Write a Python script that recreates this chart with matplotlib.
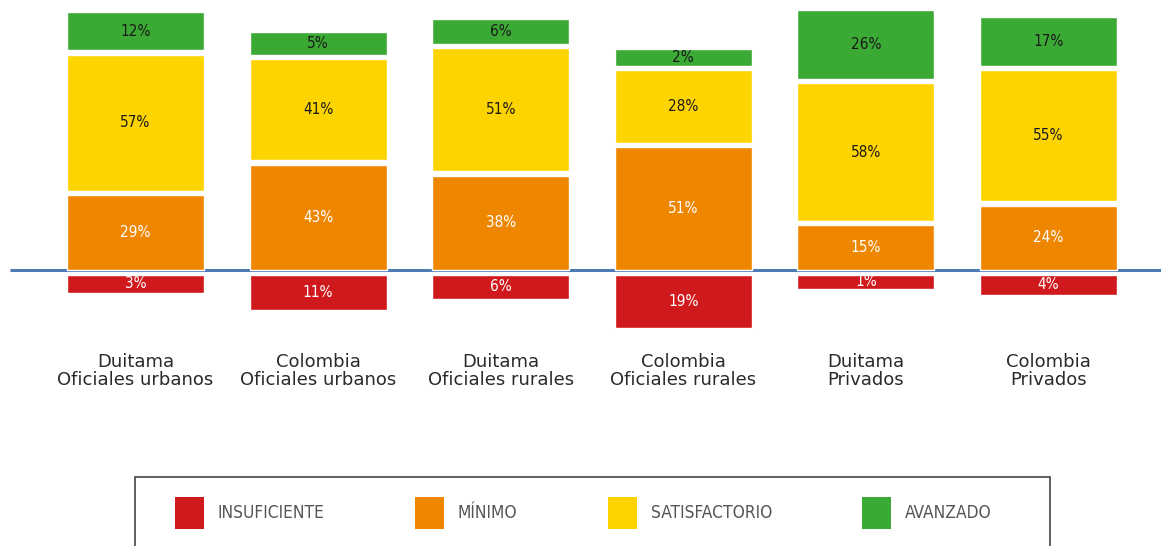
import numpy as np
import matplotlib
matplotlib.use("Agg")
import matplotlib.pyplot as plt
from matplotlib import font_manager
from matplotlib.patches import Patch, Rectangle

# results per group (%)
groups = ["Duitama", "Colombia", "Duitama", "Colombia", "Duitama", "Colombia"]
sectors = ["Oficiales urbanos", "Oficiales urbanos", "Oficiales rurales",
           "Oficiales rurales", "Privados", "Privados"]
insuficiente = [3, 11, 6, 19, 1, 4]
minimo = [29, 43, 38, 51, 15, 24]
satisfactorio = [57, 41, 51, 28, 58, 55]
avanzado = [12, 5, 6, 2, 26, 17]

level_names = ["INSUFICIENTE", "MÍNIMO", "SATISFACTORIO", "AVANZADO"]
colors = ["#cf191c", "#ef8600", "#fed400", "#3baa35"]
text_colors = ["white", "white", "#1a1a1a", "#1a1a1a"]

# condensed face for the numbers and the legend, if there is one
ttf = font_manager.fontManager.ttflist
if any(f.name == "DejaVu Sans" and f.stretch == "condensed" for f in ttf):
    narrow = dict(family="DejaVu Sans", stretch="condensed")
elif any(f.name == "Liberation Sans Narrow" for f in ttf):
    narrow = dict(family="Liberation Sans Narrow")
else:
    narrow = dict(family="DejaVu Sans")

W, H = 1161, 546
fig = plt.figure(figsize=(W / 100, H / 100), dpi=100)
ax = fig.add_axes([0, 0, 1, 1])
ax.set_xlim(-0.742, 5.616)
ax.set_ylim(-127.2, 124.4)
ax.axis("off")

pad = 5.5    # extra height on every block
gap = 2.1    # white space between blocks
width = 0.75
x = np.arange(len(groups))

ax.hlines(0, -0.687, 5.616, color="#4f7bb3", lw=2.2, zorder=1)

for i in x:
    # insuficiente hangs below the line
    h = insuficiente[i] + pad
    ax.bar(i, -h, width, bottom=-gap, color=colors[0], edgecolor="white",
           lw=1.0, zorder=2)
    ax.text(i, -gap - h / 2, f"{insuficiente[i]}%", ha="center", va="center",
            color=text_colors[0], fontsize=11, zorder=3, **narrow)

    base = 0
    for j, vals in enumerate([minimo, satisfactorio, avanzado], start=1):
        h = vals[i] + pad
        ax.bar(i, h, width, bottom=base, color=colors[j], edgecolor="white",
               lw=1.0, zorder=2)
        ax.text(i, base + h / 2, f"{vals[i]}%", ha="center", va="center",
                color=text_colors[j], fontsize=11, zorder=3, **narrow)
        base += h + gap

    ax.text(i, -44.7, groups[i], ha="center", va="baseline",
            fontsize=13, color="#2a2a2a")
    ax.text(i, -53.0, sectors[i], ha="center", va="baseline",
            fontsize=13, color="#2a2a2a")

# legend with a box that runs off the bottom edge
fig.patches.append(Rectangle((135 / W, 1 - 560 / H), 915 / W, 83 / H,
                             transform=fig.transFigure, fill=False,
                             edgecolor="#444444", lw=1.2))
fs = 12.4
fs_px = fs * 100 / 72
handles = [Patch(facecolor=c, edgecolor="none") for c in colors]
fig.legend(handles, level_names, loc="center left",
           bbox_to_anchor=(175 / W, 1 - 513 / H), ncol=4, frameon=False,
           borderpad=0, borderaxespad=0,
           handlelength=29 / fs_px, handleheight=1.45 * 29 / fs_px,
           handletextpad=14 / fs_px, columnspacing=90 / fs_px,
           labelcolor="#555555", prop=dict(size=fs, **narrow))

fig.savefig("out.png", dpi=100)
